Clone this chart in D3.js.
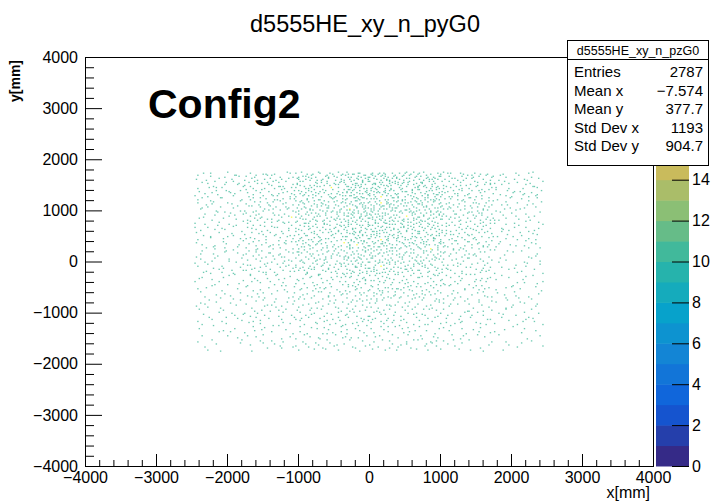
<!DOCTYPE html>
<html>
<head>
<meta charset="utf-8">
<script src="https://cdn.jsdelivr.net/npm/d3@7"></script>
<style>
  html, body { margin: 0; padding: 0; background: #ffffff; }
  svg { display: block; }
  text { font-family: "Liberation Sans", Arial, Helvetica, sans-serif; }
</style>
</head>
<body>
<svg id="chart" width="726" height="501"></svg>
<script>
// ---------------- DATA ----------------
const chartTitle = "d5555HE_xy_n_pyG0";
const statsTitle = "d5555HE_xy_n_pzG0";
const statsLabels = ["Entries", "Mean x", "Mean y", "Std Dev x", "Std Dev y"];
const statsValues = ["2787", "\u22127.574", "377.7", "1193", "904.7"];
const xTitle = "x[mm]";
const yTitle = "y[mm]";
const annotation = "Config2";

const xTicks = [-4000, -3000, -2000, -1000, 0, 1000, 2000, 3000, 4000];
const yTicks = [-4000, -3000, -2000, -1000, 0, 1000, 2000, 3000, 4000];
const zTicks = [0, 2, 4, 6, 8, 10, 12, 14, 16, 18, 20];
const zTickLabels = [0, 2, 4, 6, 8, 10, 12, 14];   // the others sit under the stats box

// Coarse density grid of entries (estimated counts per region of the filled area)
const cellXEdges = [-2450, -1750, -1050, -350, 350, 1050, 1750, 2450];
const cellYEdges = [1750, 1250, 750, 250, -250, -750, -1250, -1750]; // top -> bottom
const cellCounts = [
  [43, 61, 95, 133, 112, 69, 43],
  [35, 61, 95, 130, 112, 69, 35],
  [35, 52, 87, 121, 104, 69, 35],
  [35, 52, 78, 104, 87, 52, 26],
  [26, 35, 52, 69, 61, 43, 26],
  [26, 35, 43, 52, 43, 35, 26],
  [16, 25, 34, 35, 34, 25, 16]
];
const binSize = 20;        // histogram bin width (mm)
const zPerEntry = 10.5;    // bin content per entry (weighted)
const zMax = 20;
const nContours = 20;

// ROOT kBird palette stops
const birdStops = [0, 0.125, 0.25, 0.375, 0.5, 0.625, 0.75, 0.875, 1];
const birdColors = ["#352a87", "#0f5cdd", "#1481d6", "#06a4ca", "#2eb7a4",
                    "#87bf77", "#d1bb59", "#fec832", "#f9fb0e"];

// ---------------- DRAWING ----------------
const svg = d3.select("#chart");
const x = d3.scaleLinear().domain([-4000, 4000]).range([85, 653]);
const y = d3.scaleLinear().domain([-4000, 4000]).range([466, 57]);
const zAxisScale = d3.scaleLinear().domain([0, zMax]).range([466, 57]);
const bird = d3.scaleLinear().domain(birdStops).range(birdColors).interpolate(d3.interpolateRgb);
const levelColor = lvl => bird(Math.min(lvl, nContours - 1) / (nContours - 1));

// place entries inside each density cell (leaped low-discrepancy placement), then bin
function halton(i, b) { let f = 1, r = 0; while (i > 0) { f /= b; r += f * (i % b); i = Math.floor(i / b); } return r; }
const bins = new Map();
let k = 1;
cellCounts.forEach((row, r) => {
  row.forEach((n, c) => {
    const x0 = cellXEdges[c], x1 = cellXEdges[c + 1];
    const yTop = cellYEdges[r], yBot = cellYEdges[r + 1];
    for (let i = 0; i < n; i++, k++) {
      const idx = k * 409 + 17;
      const px = x0 + halton(idx, 2) * (x1 - x0);
      const py = yBot + halton(idx, 3) * (yTop - yBot);
      const bx = Math.floor((px + 4000) / binSize), by = Math.floor((py + 4000) / binSize);
      const key = bx + "_" + by;
      bins.set(key, { bx, by, n: (bins.get(key)?.n || 0) + 1 });
    }
  });
});
const binData = Array.from(bins.values());

// histogram cells
svg.append("g").selectAll("rect").data(binData).join("rect")
  .attr("x", d => x(-4000 + d.bx * binSize))
  .attr("y", d => y(-4000 + (d.by + 1) * binSize))
  .attr("width", x(binSize) - x(0))
  .attr("height", y(0) - y(binSize) + 0.3)
  .attr("fill", d => levelColor(Math.floor(d.n * zPerEntry)))
  .attr("fill-opacity", 0.75);

// axes
function styleAxis(g) {
  g.selectAll(".domain").remove();
  g.selectAll("line").attr("stroke", "#000").attr("stroke-width", 1);
  g.selectAll("text").attr("fill", "#000").attr("font-size", 16)
    .attr("font-family", "'Liberation Sans', Arial, sans-serif");
}
const minorX = d3.range(-4000, 4001, 200).filter(v => v % 1000 !== 0);
const minorY = minorX;

svg.append("g").attr("transform", "translate(0,466)")
  .call(d3.axisBottom(x).tickValues(minorX).tickSizeInner(-6).tickSizeOuter(0).tickFormat(""))
  .call(styleAxis);
svg.append("g").attr("transform", "translate(0,466)")
  .call(d3.axisBottom(x).tickValues(xTicks).tickSizeInner(-12).tickSizeOuter(0).tickPadding(6).tickFormat(d3.format("d")))
  .call(styleAxis);
svg.append("g").attr("transform", "translate(85,0)")
  .call(d3.axisLeft(y).tickValues(minorY).tickSizeInner(-9).tickSizeOuter(0).tickFormat(""))
  .call(styleAxis);
svg.append("g").attr("transform", "translate(85,0)")
  .call(d3.axisLeft(y).tickValues(yTicks).tickSizeInner(-17).tickSizeOuter(0).tickPadding(7).tickFormat(d3.format("d")))
  .call(styleAxis);

// frame
svg.append("rect").attr("x", 85).attr("y", 57).attr("width", 568).attr("height", 409)
  .attr("fill", "none").attr("stroke", "#000").attr("stroke-width", 1).attr("shape-rendering", "crispEdges");

// colour bar
const levels = d3.range(nContours);
svg.append("g").selectAll("rect").data(levels).join("rect")
  .attr("x", 656).attr("width", 33)
  .attr("y", d => zAxisScale(d + 1))
  .attr("height", d => zAxisScale(d) - zAxisScale(d + 1) + 0.5)
  .attr("fill", d => levelColor(d));
svg.append("g").attr("transform", "translate(689,0)")
  .call(d3.axisRight(zAxisScale).tickValues(zTicks).tickSizeInner(-17).tickSizeOuter(0).tickPadding(3)
    .tickFormat(d => zTickLabels.includes(d) ? d3.format("d")(d) : ""))
  .call(styleAxis);

// titles
svg.append("text").attr("x", 365).attr("y", 32).attr("text-anchor", "middle")
  .attr("font-size", 23.5).attr("fill", "#000").text(chartTitle);
svg.append("text").attr("x", 650).attr("y", 498).attr("text-anchor", "end")
  .attr("font-size", 16).attr("fill", "#000").text(xTitle);
svg.append("text").attr("transform", "translate(20,60) rotate(-90)").attr("text-anchor", "end")
  .attr("font-size", 14).attr("font-weight", 700).attr("fill", "#000").text(yTitle);

// annotation
svg.append("text").attr("x", 148).attr("y", 118)
  .attr("font-family", "Lato, 'Open Sans', sans-serif").attr("font-weight", 700)
  .attr("font-size", 41).attr("fill", "#000").text(annotation);

// stats box
const sb = svg.append("g");
sb.append("rect").attr("x", 567.5).attr("y", 40.5).attr("width", 141).attr("height", 125)
  .attr("fill", "#fff").attr("stroke", "#000").attr("stroke-width", 1);
sb.append("line").attr("x1", 567.5).attr("x2", 708.5).attr("y1", 59.5).attr("y2", 59.5)
  .attr("stroke", "#000").attr("stroke-width", 1);
sb.append("text").attr("x", 638).attr("y", 55).attr("text-anchor", "middle")
  .attr("font-size", 12.5).attr("fill", "#000").text(statsTitle);
const rowY = [77, 95.5, 114, 132.5, 151];
statsLabels.forEach((lab, i) => {
  sb.append("text").attr("x", 574).attr("y", rowY[i]).attr("font-size", 15).attr("fill", "#000").text(lab);
  sb.append("text").attr("x", 703).attr("y", rowY[i]).attr("text-anchor", "end")
    .attr("font-size", 15).attr("fill", "#000").text(statsValues[i]);
});
</script>
</body>
</html>
